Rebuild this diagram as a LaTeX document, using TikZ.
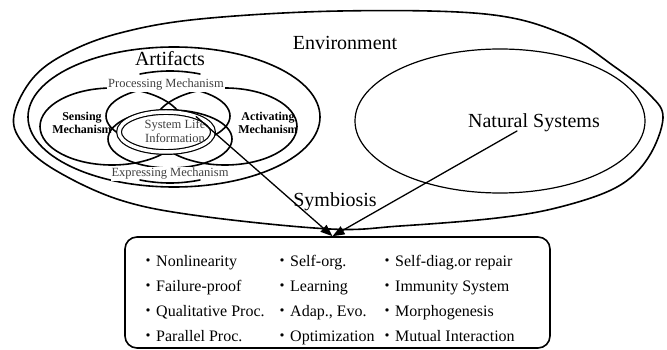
\documentclass[tikz,border=0pt]{standalone}
\usepackage{fontspec}
\setmainfont{Liberation Serif}
\newfontfamily\cjk{Noto Sans CJK JP}
\usetikzlibrary{arrows.meta}
\newcommand{\kdot}{{\cjk ・}}
\tikzset{
  shell/.style={line width=1.6pt},
  big/.style={font=\fontsize{20}{24}\selectfont, inner sep=0pt},
  mech/.style={font=\fontsize{12.5}{13.5}\selectfont, text=black!75, fill=white, inner sep=1pt},
  side/.style={font=\bfseries\fontsize{12}{13.5}\selectfont, align=center, inner sep=0pt},
  item/.style={font=\fontsize{16}{19}\selectfont, anchor=base west, inner sep=0pt}
}

\begin{document}
\begin{tikzpicture}[line cap=round,line join=round,>={Triangle[length=12pt,width=9pt]},x=1pt,y=-1pt]
\useasboundingbox (0,0) rectangle (667,350);
% environment and the two systems
\draw [shell] plot [smooth cycle, tension=0.6] coordinates {(14,115) (33,78) (67,53) (120,33) (200,19) (340,11) (485,14) (563,34) (615,67) (650,95) (663,118) (648,158) (617,187) (560,207) (497,218) (400,226) (330,229) (200,216) (120,200) (55,170) (22,142)};
\draw [shell] (174,117) ellipse [x radius=146, y radius=70];
\draw [line width=1.2pt] (500,121) ellipse [x radius=145, y radius=72];
% mechanisms
\draw [shell] (112,126.5) ellipse [x radius=72, y radius=38.5];
\draw [shell] (225,126.5) ellipse [x radius=72, y radius=38.5];
\draw [shell] (168,116) ellipse [x radius=62, y radius=29];
\draw [shell] (170,139) ellipse [x radius=62, y radius=29];
\node [mech, anchor=base] (proc) at (166,88) {Processing Mechanism};
\node [mech, anchor=base] (expr) at (170,177) {Expressing Mechanism};
\draw [shell] (140,74) .. controls (160,70) and (180,70) .. (200,74);
\draw [shell] (140,180) .. controls (160,184) and (180,184) .. (200,180);
\draw [line width=1.2pt, double=white, double distance=3.5pt, fill=white] (166,132) ellipse [x radius=47, y radius=20];
\coordinate (slifoot) at ([shift={(-50:47 and 20)}]166,132);
\node [mech, fill=none, align=center, font=\fontsize{12.5}{14.5}\selectfont] (sli) at (175,131) {System Life\\Information};
\node [side] (sens) at (82,123) {Sensing\\Mechanism};
\node [side] (act) at (268,123) {Activating\\Mechanism};
% labels
\node [big, anchor=base] (env) at (345,50) {Environment};
\node [big, anchor=base] (art) at (170,66) {Artifacts};
\node [big, anchor=base] (nat) at (534,128) {Natural Systems};
\node [big, anchor=base] (sym) at (335,207) {Symbiosis};
\coordinate (natfoot) at (517,131);
% features
\node [draw, shell, rounded corners=12pt, minimum width=425pt, minimum height=111pt, inner sep=0pt] (traits) at (337.5,292.5) {};
\foreach \a/\b/\c [count=\i from 0] in {Nonlinearity/Self-org./Self-diag.or repair, Failure-proof/Learning/Immunity System, Qualitative Proc./{Adap., Evo.}/Morphogenesis, Parallel Proc./Optimization/Mutual Interaction}{
  \node [item] (pa\i) at (140,{266+25.2*\i}) {\kdot\a};
  \node [item] (pb\i) at (274,{266+25.2*\i}) {\kdot\b};
  \node [item] (pc\i) at (379,{266+25.2*\i}) {\kdot\c};
}
\draw [->, line width=1.3pt] (slifoot) -- ([xshift=-5pt]traits.north);
\draw [->, line width=1.3pt] (natfoot) -- ([xshift=-5pt]traits.north);
\end{tikzpicture}
\end{document}
